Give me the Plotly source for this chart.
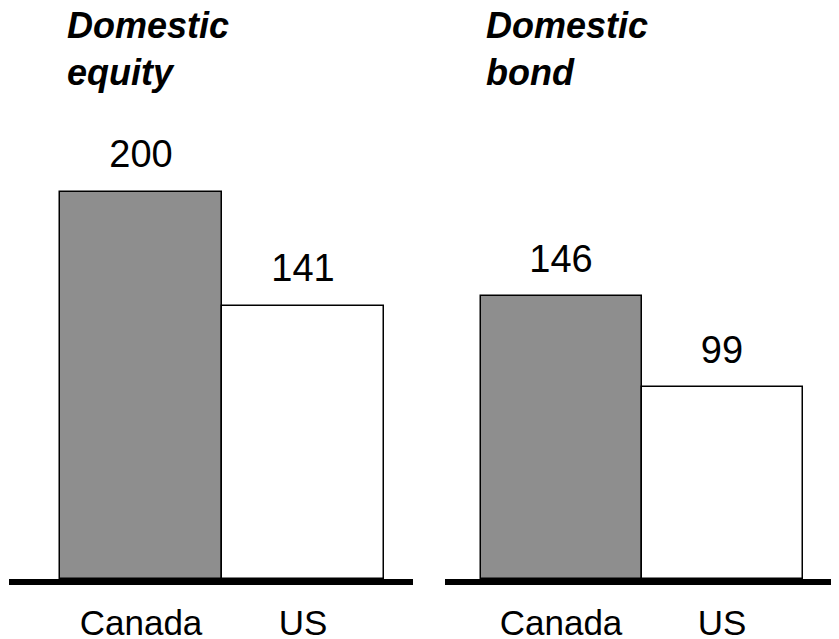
import plotly.graph_objects as go

categories = ["Canada", "US"]
equity_values = [200, 141]
bond_values = [146, 99]
panel_titles = ["Domestic<br>equity", "Domestic<br>bond"]

# the page body keeps an 8px margin, so the figure is 8px smaller each way
W, H = 831, 631
FONT = "Liberation Sans, Arial, Helvetica, sans-serif"
bar_colors = ["#8e8e8e", "#ffffff"]

# pixel geometry (figure coordinates)
base_px = 571.0
scale = (579.0 - 192.0) / 200.0
y_top = base_px / scale

fig = go.Figure()

for vals, xa in [(equity_values, "x"), (bond_values, "x2")]:
    fig.add_trace(go.Bar(
        x=categories, y=vals, xaxis=xa, yaxis="y",
        marker=dict(color=bar_colors, line=dict(color="black", width=1.5)),
        width=1.0, hoverinfo="skip", showlegend=False,
    ))
    fig.add_trace(go.Scatter(
        x=categories, y=vals, xaxis=xa, yaxis="y",
        mode="markers+text", text=[str(v) for v in vals],
        textposition="top center",
        marker=dict(size=23, color="rgba(0,0,0,0)"),
        textfont=dict(family=FONT, size=38, color="black"),
        hoverinfo="skip", showlegend=False, cliponaxis=False,
    ))

def xaxis_cfg(d0, d1, r0, r1):
    return dict(
        domain=[d0 / W, d1 / W], range=[r0, r1], anchor="y",
        showline=True, linewidth=6, linecolor="black",
        showgrid=False, zeroline=False, ticks="",
        ticklabelstandoff=8,
        tickfont=dict(family=FONT, size=35, color="black"),
        automargin=False, fixedrange=True,
    )

fig.update_layout(
    width=W, height=H,
    margin=dict(l=0, r=0, t=0, b=0),
    paper_bgcolor="white", plot_bgcolor="white",
    bargap=0,
    xaxis=xaxis_cfg(1, 405, -(133 - 1) / 162, (405 - 133) / 162),
    xaxis2=xaxis_cfg(437, 831, -(553 - 437) / 161, (831 - 553) / 161),
    yaxis=dict(domain=[(H - base_px) / H, 1], range=[0, y_top], visible=False,
               showgrid=False, zeroline=False, fixedrange=True),
)

for title, xpx in zip(panel_titles, [57, 476]):
    fig.add_annotation(
        text="<b><i>" + title + "</i></b>", xref="paper", yref="paper",
        x=xpx / W, y=1 + 5 / H, xanchor="left", yanchor="top", align="left",
        showarrow=False, font=dict(family=FONT, size=36, color="black"),
    )

fig.write_html("out.html")
